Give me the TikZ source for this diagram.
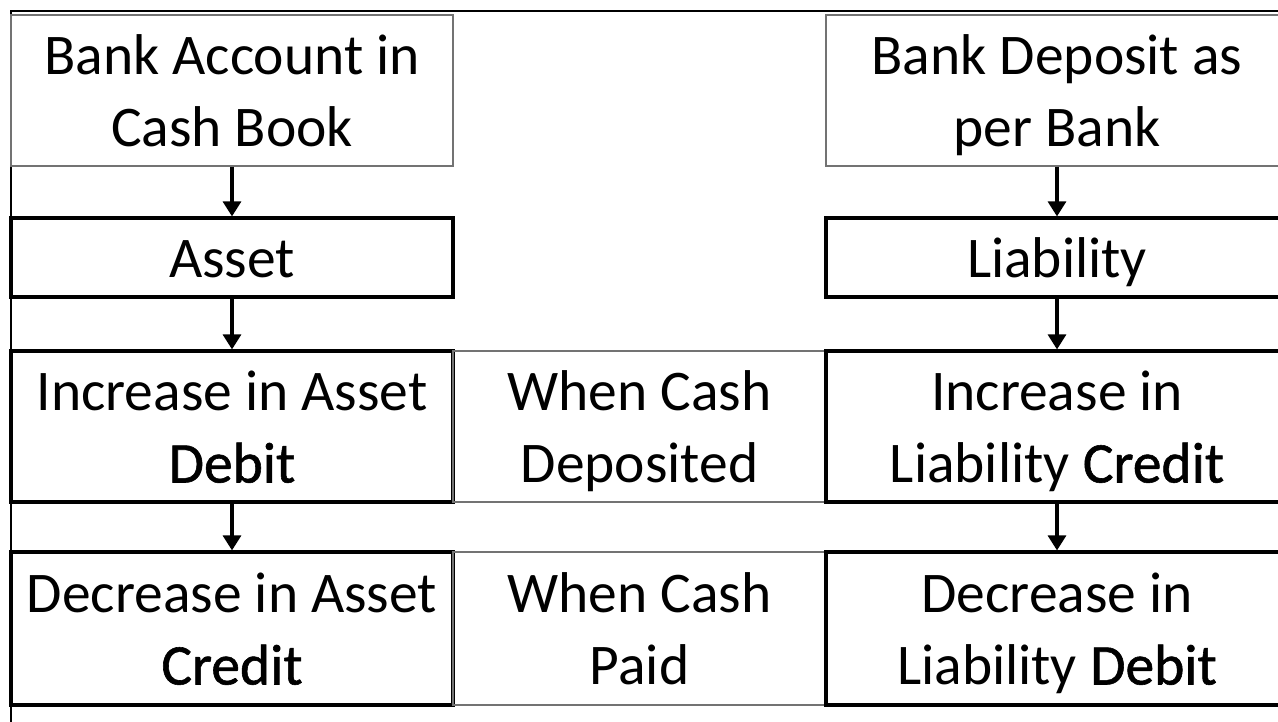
\documentclass[tikz,border=0pt]{standalone}
\usepackage{fontspec}
\setmainfont{Carlito}
\newfontfamily\emfont{Carlito}[FakeBold=1]
\newcommand\ls{\rule[-12pt]{0pt}{64pt}}
\usetikzlibrary{arrows.meta}
\begin{document}
\begin{tikzpicture}[x=1pt,y=-1pt,
  box/.style={rectangle, inner sep=0pt, align=center, font=\fontsize{57.5}{72}\selectfont},
  thinbox/.style={box, draw=black!55, line width=1.2pt},
  thickbox/.style={box, draw=black, line width=3.2pt},
  conn/.style={line width=3.2pt, -{Triangle[length=15pt,width=18pt]}},
  frameline/.style={line width=2.5pt, draw=black}]
\useasboundingbox (0,0) rectangle (1278,721);
\fill[white] (0,0) rectangle (1278,721);
% outer frame (cut at right and bottom)
\coordinate (fbl) at (11,740);
\coordinate (ftl) at (11,11);
\coordinate (ftr) at (1300,11);
\draw[frameline] (fbl) -- (ftl) -- (ftr);
% left column
\node[thinbox, minimum width=442pt, minimum height=151pt] (b1) at (232,90.5) {\ls Bank Account in\\\ls Cash Book};
\node[thickbox, minimum width=442pt, minimum height=79pt] (asset) at (232,257.5) {\ls Asset};
\node[thickbox, minimum width=442pt, minimum height=151pt] (incl) at (232,426.5) {\ls Increase in Asset\\\ls{\emfont Debit}};
\node[thickbox, minimum width=442pt, minimum height=153pt] (decl) at (232,628.5) {\ls Decrease in Asset\\\ls{\emfont Credit}};
% middle column
\node[thinbox, minimum width=373pt, minimum height=151pt] (mid1) at (639.5,426.5) {\ls When Cash\\\ls Deposited};
\node[thinbox, minimum width=373pt, minimum height=153pt] (mid2) at (639.5,628.5) {\ls When Cash\\\ls Paid};
% right column
\node[thinbox, minimum width=462pt, minimum height=151pt] (b2) at (1057,90.5) {\ls Bank Deposit as\\\ls per Bank};
\node[thickbox, minimum width=462pt, minimum height=79pt] (liab) at (1057,257.5) {\ls Liability};
\node[thickbox, minimum width=462pt, minimum height=151pt] (incr) at (1057,426.5) {\ls Increase in\\\ls Liability {\emfont Credit}};
\node[thickbox, minimum width=462pt, minimum height=153pt] (decr) at (1057,628.5) {\ls Decrease in\\\ls Liability {\emfont Debit}};
% connectors
\draw[conn] (b1.south) -- (asset.north);
\draw[conn] (asset.south) -- (incl.north);
\draw[conn] (incl.south) -- (decl.north);
\draw[conn] (b2.south) -- (liab.north);
\draw[conn] (liab.south) -- (incr.north);
\draw[conn] (incr.south) -- (decr.north);
\end{tikzpicture}
\end{document}
